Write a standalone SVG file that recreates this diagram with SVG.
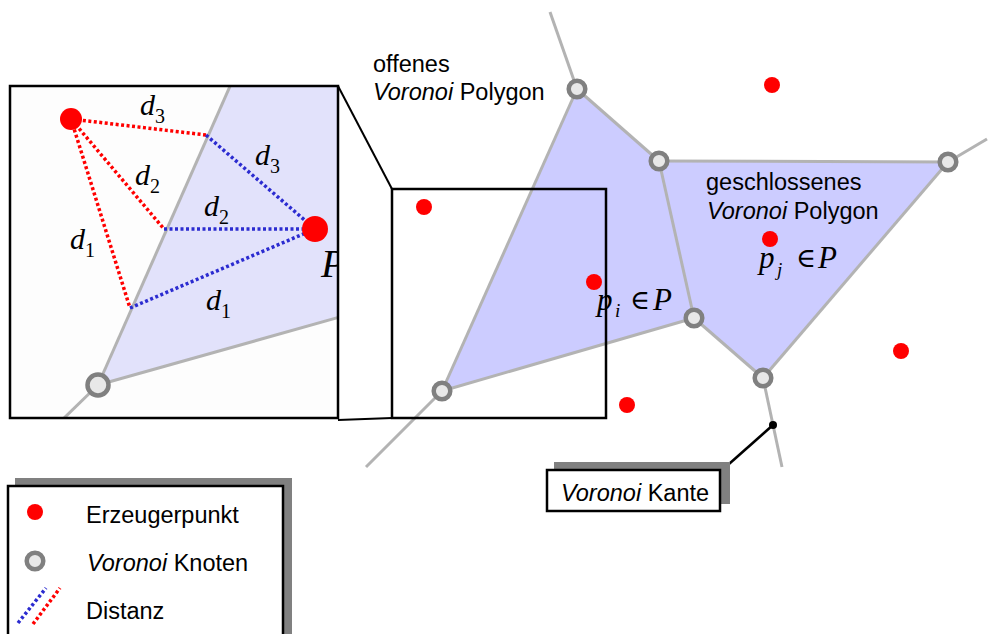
<svg xmlns="http://www.w3.org/2000/svg" width="989" height="634" viewBox="0 0 989 634">
<defs>
<style>
.edge{stroke:#b3b3b3;stroke-width:3;fill:none}
.node{fill:#e8e8e8;stroke:#808080;stroke-width:4.5}
.gen{fill:#ff0000}
.lbl{font-family:"Liberation Sans",Arial,sans-serif;font-size:23.5px;fill:#000}
.math{font-family:"Liberation Serif","Times New Roman",serif;font-style:italic;fill:#000}
.sym{font-family:"Liberation Serif","DejaVu Serif",serif;font-style:normal;fill:#000}
.red{stroke:#ff0000;stroke-width:3.5;stroke-dasharray:3 2.5;fill:none}
.blue{stroke:#2b2bd0;stroke-width:3.5;stroke-dasharray:3 2.5;fill:none}
.box{fill:#fff;stroke:#000;stroke-width:2.5}
.shadow{fill:#808080}
</style>
<clipPath id="insetClip"><rect x="10" y="86" width="328" height="332"/></clipPath>
</defs>
<rect width="989" height="634" fill="#fff"/>

<g id="regions">
<polygon points="442,391 577,89 659,161 694,318" fill="#ccccff"/>
<polygon points="659,161 948,162 763,378 694,318" fill="#ccccff"/>
</g>

<g id="connectors">
<line class="edge" x1="577" y1="89" x2="550" y2="12"/>
<line class="edge" x1="577" y1="89" x2="659" y2="161"/>
<line class="edge" x1="659" y1="161" x2="948" y2="162"/>
<line class="edge" x1="948" y1="162" x2="987" y2="139"/>
<line class="edge" x1="659" y1="161" x2="694" y2="318"/>
<line class="edge" x1="694" y1="318" x2="763" y2="378"/>
<line class="edge" x1="948" y1="162" x2="763" y2="378"/>
<line class="edge" x1="763" y1="378" x2="782" y2="467"/>
<line class="edge" x1="442" y1="391" x2="577" y2="89"/>
<line class="edge" x1="442" y1="391" x2="694" y2="318"/>
<line class="edge" x1="442" y1="391" x2="366" y2="467"/>
<line x1="338" y1="86" x2="392" y2="189" stroke="#000" stroke-width="2"/>
<line x1="338" y1="420" x2="392" y2="418" stroke="#000" stroke-width="2"/>
<line x1="729" y1="464" x2="773" y2="425" stroke="#000" stroke-width="2.5"/>
<circle cx="773" cy="425" r="4" fill="#000"/>
</g>

<g id="nodes">
<circle class="node" cx="577" cy="89" r="8.3"/>
<circle class="node" cx="659" cy="161" r="8.3"/>
<circle class="node" cx="948" cy="162" r="8.3"/>
<circle class="node" cx="694" cy="318" r="8.3"/>
<circle class="node" cx="763" cy="378" r="8.3"/>
<circle class="node" cx="442" cy="391" r="8.3"/>
</g>

<g id="generators">
<circle class="gen" cx="772" cy="85" r="8"/>
<circle class="gen" cx="424" cy="207" r="8"/>
<circle class="gen" cx="594" cy="282" r="8"/>
<circle class="gen" cx="770" cy="239" r="8"/>
<circle class="gen" cx="901" cy="351" r="8"/>
<circle class="gen" cx="627" cy="405" r="8"/>
</g>

<g id="zoom-rect">
<rect x="392" y="189" width="214" height="229" fill="none" stroke="#000" stroke-width="2.5"/>
</g>

<g id="labels">
<text class="lbl" x="373" y="72">offenes</text>
<text class="lbl" x="373" y="100"><tspan font-style="italic">Voronoi</tspan> Polygon</text>
<text class="lbl" x="706" y="190">geschlossenes</text>
<text class="lbl" x="707" y="219"><tspan font-style="italic">Voronoi</tspan> Polygon</text>
<text class="math" x="597" y="310" font-size="31">p</text>
<text class="math" x="615" y="317" font-size="19">i</text>
<text class="sym" x="630" y="309" font-size="27">∈</text>
<text class="math" x="653" y="310" font-size="31">P</text>
<text class="math" x="759" y="268" font-size="31">p</text>
<text class="math" x="777" y="276" font-size="19">j</text>
<text class="sym" x="796" y="267" font-size="27">∈</text>
<text class="math" x="818" y="268" font-size="31">P</text>
</g>

<g id="inset">
<rect x="10" y="86" width="328" height="332" fill="#fdfdfd"/>
<g clip-path="url(#insetClip)">
<polygon points="231,84 340,84 340,317 98,385" fill="#e2e2fb"/>
<line class="edge" x1="98" y1="385" x2="231" y2="84"/>
<line class="edge" x1="98" y1="385" x2="60" y2="422"/>
<line class="edge" x1="98" y1="385" x2="340" y2="317"/>
<circle class="node" cx="98" cy="385" r="10.5" stroke-width="8"/>
<polyline class="red" points="206,135 71,119 164,229"/>
<line class="red" x1="71" y1="119" x2="130" y2="308"/>
<line class="blue" x1="206" y1="135" x2="315" y2="229"/>
<line class="blue" x1="164" y1="229" x2="315" y2="229"/>
<line class="blue" x1="130" y1="308" x2="315" y2="229"/>
<circle class="gen" cx="71" cy="119" r="11"/>
<circle class="gen" cx="315" cy="229" r="13"/>
<text class="math" x="321" y="277" font-size="40">P</text>
<text class="math" x="140" y="115" font-size="30">d<tspan font-style="normal" font-size="20" dy="8">3</tspan></text>
<text class="math" x="255" y="165" font-size="30">d<tspan font-style="normal" font-size="20" dy="8">3</tspan></text>
<text class="math" x="135" y="185" font-size="30">d<tspan font-style="normal" font-size="20" dy="8">2</tspan></text>
<text class="math" x="204" y="216" font-size="30">d<tspan font-style="normal" font-size="20" dy="8">2</tspan></text>
<text class="math" x="70" y="249" font-size="30">d<tspan font-style="normal" font-size="20" dy="8">1</tspan></text>
<text class="math" x="206" y="310" font-size="30">d<tspan font-style="normal" font-size="20" dy="8">1</tspan></text>
</g>
<rect x="10" y="86" width="328" height="332" fill="none" stroke="#000" stroke-width="2.5"/>
</g>

<g id="kante-label">
<rect class="shadow" x="554" y="462" width="176" height="42"/>
<rect class="box" x="547" y="470" width="173" height="41"/>
<text class="lbl" x="561" y="501"><tspan font-style="italic">Voronoi</tspan> Kante</text>
</g>

<g id="legend">
<rect class="shadow" x="15" y="478" width="277" height="160"/>
<rect class="box" x="8" y="486" width="275" height="152"/>
<circle class="gen" cx="35" cy="512" r="8"/>
<text class="lbl" x="86" y="523">Erzeugerpunkt</text>
<circle class="node" cx="35" cy="561" r="8.3"/>
<text class="lbl" x="87" y="571"><tspan font-style="italic">Voronoi</tspan> Knoten</text>
<line class="blue" x1="18" y1="623" x2="46" y2="588" stroke-width="3"/>
<line class="red" x1="33" y1="624" x2="60" y2="588" stroke-width="3"/>
<text class="lbl" x="86" y="619">Distanz</text>
</g>
</svg>
